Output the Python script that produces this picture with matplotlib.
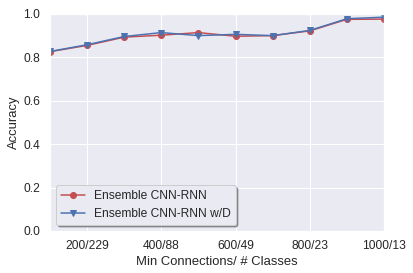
import matplotlib
matplotlib.use("Agg")
import matplotlib.pyplot as plt
import seaborn as sns

sns.set()
plt.rcParams['font.family'] = ['Liberation Sans', 'DejaVu Sans']
plt.rcParams['xtick.labelsize'] = 12
plt.rcParams['ytick.labelsize'] = 12
plt.rcParams['axes.labelsize'] = 13
plt.rcParams['legend.fontsize'] = 12

# x positions: min connections
min_conn = [100, 200, 300, 400, 500, 600, 700, 800, 900, 1000]
tick_pos = [200, 400, 600, 800, 1000]
tick_labels = ['200/229', '400/88', '600/49', '800/23', '1000/13']

acc_ensemble = [0.826, 0.855, 0.893, 0.902, 0.914, 0.897, 0.900, 0.922, 0.975, 0.976]
acc_ensemble_wd = [0.827, 0.858, 0.896, 0.914, 0.900, 0.906, 0.900, 0.924, 0.978, 0.985]

fig = plt.figure(figsize=(413 / 72, 273 / 72), dpi=72)
ax = fig.add_axes([0.121, 0.154, 0.809, 0.795])

ax.plot(min_conn, acc_ensemble, 'r-o', label='Ensemble CNN-RNN')
ax.plot(min_conn, acc_ensemble_wd, 'b-v', label='Ensemble CNN-RNN w/D')

ax.set_xlim(100, 1000)
ax.set_ylim(0.0, 1.0)
ax.set_xticks(tick_pos)
ax.set_xticklabels(tick_labels)
ax.set_xlabel('Min Connections/ # Classes')
ax.set_ylabel('Accuracy')
ax.legend(loc='lower left', shadow=True, frameon=True)

fig.savefig('out.png', dpi=72)
